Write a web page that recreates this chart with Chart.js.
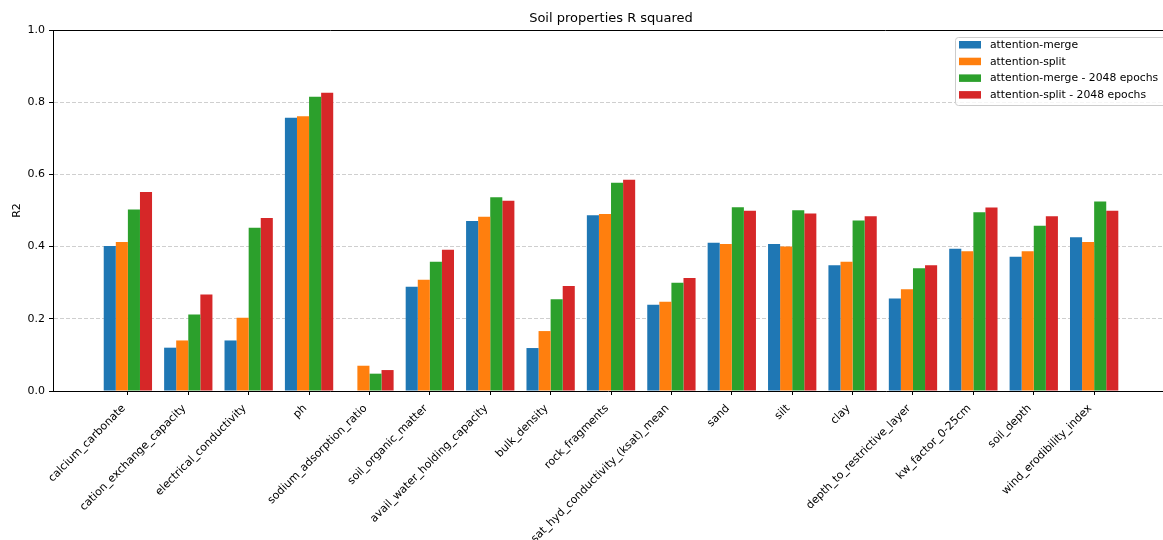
<!DOCTYPE html>
<html>
<head>
<meta charset="utf-8">
<script src="https://cdn.jsdelivr.net/npm/chart.js@4/dist/chart.umd.min.js"></script>
<style>
  html, body { margin: 0; padding: 0; background: #fff; }
  #wrap { width: 1163px; height: 540px; }
</style>
</head>
<body>
<div id="wrap"><canvas id="chart" width="1163" height="540"></canvas></div>
<script>
// Soil properties and R squared per model variant
const properties = [
  'calcium_carbonate', 'cation_exchange_capacity', 'electrical_conductivity', 'ph',
  'sodium_adsorption_ratio', 'soil_organic_matter', 'avail_water_holding_capacity',
  'bulk_density', 'rock_fragments', 'sat_hyd_conductivity_(ksat)_mean', 'sand', 'silt',
  'clay', 'depth_to_restrictive_layer', 'kw_factor_0-25cm', 'soil_depth', 'wind_erodibility_index'
];
const seriesNames = [
  'attention-merge', 'attention-split',
  'attention-merge - 2048 epochs', 'attention-split - 2048 epochs'
];
const attentionMerge     = [0.402, 0.120, 0.140, 0.757, null,  0.289, 0.471, 0.119, 0.487, 0.239, 0.411, 0.407, 0.348, 0.256, 0.394, 0.372, 0.426];
const attentionSplit     = [0.413, 0.140, 0.203, 0.761, 0.070, 0.308, 0.483, 0.166, 0.490, 0.247, 0.407, 0.400, 0.358, 0.282, 0.387, 0.387, 0.413];
const attentionMerge2048 = [0.503, 0.212, 0.452, 0.815, 0.048, 0.358, 0.537, 0.254, 0.577, 0.300, 0.509, 0.501, 0.472, 0.340, 0.495, 0.458, 0.525];
const attentionSplit2048 = [0.551, 0.267, 0.479, 0.826, 0.058, 0.391, 0.527, 0.291, 0.585, 0.313, 0.499, 0.492, 0.484, 0.348, 0.508, 0.484, 0.499];
const yTicks = [0, 0.2, 0.4, 0.6, 0.8, 1.0];
const chartTitle = 'Soil properties R squared';

const colors = ['#1f77b4', '#ff7f0e', '#2ca02c', '#d62728'];
const FONT = "'DejaVu Sans', sans-serif";

const allSeries = [attentionMerge, attentionSplit, attentionMerge2048, attentionSplit2048];
const datasets = allSeries.map((vals, s) => ({
  label: seriesNames[s],
  data: vals.map((v, i) => ({ x: i, y: v })),
  backgroundColor: colors[s],
  borderWidth: 0,
  categoryPercentage: 0.8,
  barPercentage: 1.0
}));

// Top spine of the axes frame, plus the title centred over the axes
// (the axes run slightly past the right canvas edge)
const frame = {
  id: 'frame',
  afterDraw(chart) {
    const { ctx, chartArea } = chart;
    ctx.save();
    ctx.strokeStyle = '#000';
    ctx.lineWidth = 1;
    ctx.beginPath();
    ctx.moveTo(chartArea.left, chartArea.top + 0.5);
    ctx.lineTo(chartArea.right, chartArea.top + 0.5);
    ctx.stroke();
    const axesRight = chartArea.right + 6;
    ctx.fillStyle = '#000';
    ctx.font = '13px ' + FONT;
    ctx.textAlign = 'center';
    ctx.textBaseline = 'middle';
    ctx.fillText(chartTitle, (chartArea.left + axesRight) / 2, chartArea.top - 11);
    ctx.restore();
  }
};

// Legend box in the upper right corner of the plot
const cornerLegend = {
  id: 'cornerLegend',
  afterDraw(chart) {
    const { ctx, chartArea } = chart;
    const x0 = chartArea.right - 208, y0 = chartArea.top + 7;
    const w = 240, h = 68;
    ctx.save();
    ctx.fillStyle = 'rgba(255,255,255,0.8)';
    ctx.strokeStyle = '#cccccc';
    ctx.lineWidth = 1;
    ctx.beginPath();
    ctx.roundRect(x0 + 0.5, y0 + 0.5, w, h, 3);
    ctx.fill();
    ctx.stroke();
    ctx.font = '10.8px ' + FONT;
    ctx.textBaseline = 'middle';
    ctx.textAlign = 'left';
    chart.data.datasets.forEach((ds, i) => {
      const cy = y0 + 8 + i * 16.7;
      ctx.fillStyle = ds.backgroundColor;
      ctx.fillRect(x0 + 4, cy - 4, 22, 7.5);
      ctx.fillStyle = '#000';
      ctx.fillText(ds.label, x0 + 35, cy);
    });
    ctx.restore();
  }
};

new Chart(document.getElementById('chart'), {
  type: 'bar',
  data: { datasets },
  plugins: [frame, cornerLegend],
  options: {
    responsive: false,
    devicePixelRatio: 1,
    animation: false,
    layout: { padding: { top: 30, left: 0, right: 0, bottom: 0 } },
    plugins: {
      legend: { display: false },
      tooltip: { enabled: false },
      title: { display: false }
    },
    scales: {
      x: {
        type: 'linear',
        min: -1.24,
        max: 17.14,
        offset: false,
        afterBuildTicks: (scale) => { scale.ticks = properties.map((_, i) => ({ value: i })); },
        afterFit: (scale) => { scale.height = 149; },
        border: { display: true, color: '#000', width: 1 },
        grid: { offset: false, drawOnChartArea: false, drawTicks: true, tickLength: 4, tickColor: '#000' },
        ticks: {
          autoSkip: false,
          maxRotation: 45,
          minRotation: 45,
          padding: 7,
          labelOffset: -4,
          color: '#000',
          font: { family: FONT, size: 11 },
          callback: (v) => properties[v]
        }
      },
      y: {
        min: 0,
        max: 1,
        afterBuildTicks: (scale) => { scale.ticks = yTicks.map(v => ({ value: v })); },
        afterFit: (scale) => { scale.width = 53; },
        border: { display: true, color: '#000', width: 1, dash: [4, 2] },
        grid: {
          color: (c) => (c.tick && (c.tick.value === 0 || c.tick.value === 1)) ? 'rgba(0,0,0,0)' : '#cfcfcf',
          tickLength: 4,
          tickColor: '#000',
          tickBorderDash: []
        },
        title: {
          display: true,
          text: 'R2',
          color: '#000',
          font: { family: FONT, size: 11 },
          padding: { top: 11, bottom: 0 }
        },
        ticks: {
          padding: 4,
          color: '#000',
          font: { family: FONT, size: 11 },
          callback: (v) => v.toFixed(1)
        }
      }
    }
  }
});
</script>
</body>
</html>
